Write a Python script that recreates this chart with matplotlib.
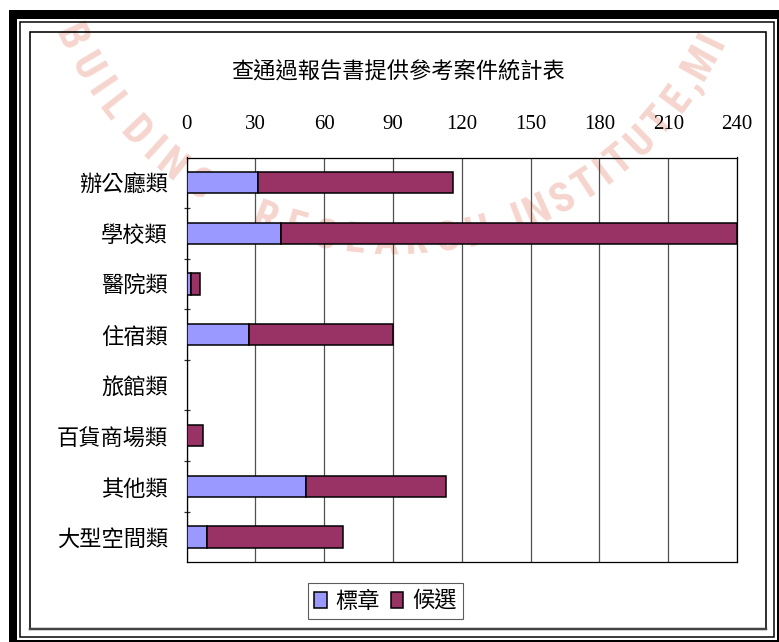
import matplotlib
matplotlib.use('Agg')
import matplotlib.pyplot as plt
from matplotlib.patches import Rectangle, Patch
from matplotlib.ticker import FixedLocator
from matplotlib import font_manager
import numpy as np

plt.rcParams['font.family'] = ['Noto Sans CJK TC', 'DejaVu Sans']

# data
title = '查通過報告書提供參考案件統計表'
categories = ['辦公廳類', '學校類', '醫院類', '住宿類', '旅館類', '百貨商場類', '其他類', '大型空間類']
badge = [31, 41, 2, 27, 0, 0, 52, 9]         # 標章
candidate = [85, 199, 4, 63, 0, 7, 61, 59]   # 候選
series_names = ['標章', '候選']
x_ticks = [0, 30, 60, 90, 120, 150, 180, 210, 240]

# seal words: (word, start angle, step in degrees)
seal_words = [('BUILDING', -65, 5.3), ('RESEARCH', -21, 5.0),
              ('INSTITUTE,', 22, 4.5), ('MINISTRY', 60, 4.7)]

W, H = 779, 642
fig = plt.figure(figsize=(W / 100, H / 100), dpi=100, facecolor='white')


def fx(x):
    return x / W


def fy(y):
    return 1 - y / H


def box(x0, y0, x1, y1, **kw):
    # rectangle given in pixel coords, origin top-left
    r = Rectangle((fx(x0), fy(y1)), fx(x1) - fx(x0), fy(y0) - fy(y1),
                  transform=fig.transFigure, **kw)
    fig.add_artist(r)
    return r


# pick a narrow face for the seal lettering if one is installed
names = {f.name for f in font_manager.fontManager.ttflist}
seal_fonts = [n for n in ['Roboto Condensed', 'DejaVu Sans Condensed',
                          'Liberation Sans Narrow', 'Open Sans Condensed'] if n in names]
seal_fonts.append('DejaVu Sans')
seal_size = 30 if seal_fonts[0] != 'DejaVu Sans' else 26

# faint seal watermark behind everything
cx, cy, rad = 392, -112, 355
narrow = {'I': 0.5, ',': 0.45, 'M': 1.2}
for word, a0, step in seal_words:
    pos = 0.0
    for ch in word:
        w = narrow.get(ch, 1.0)
        phi = a0 + (pos + w / 2 - 0.5) * step
        pos += w
        t = np.radians(phi)
        px = cx + rad * np.sin(t)
        py = cy + rad * np.cos(t)
        if py < 24 or px > 765:
            continue
        fig.text(fx(px), fy(py), ch, ha='center', va='center', rotation=phi,
                 rotation_mode='anchor', fontsize=seal_size, fontweight='bold',
                 family=seal_fonts[:1], color='#F5D5CD', zorder=-5)

# page frame: thick black band, thin line, chart border
lw_px = 0.72
box(9, 10, 17, 642, facecolor='black', edgecolor='none', zorder=1)
box(9, 10, 779, 19, facecolor='black', edgecolor='none', zorder=1)
box(777, 10, 779, 642, facecolor='black', edgecolor='none', zorder=1)
box(9, 640, 779, 642, facecolor='black', edgecolor='none', zorder=1)
box(20, 21.5, 774, 637, facecolor='none', edgecolor='black', lw=1.5 * lw_px, zorder=1)
box(30, 31.5, 766, 628.5, facecolor='none', edgecolor='black', lw=1.6 * lw_px, zorder=1)
fig.add_artist(plt.Line2D([fx(30), fx(766)], [fy(629), fy(629)], color='#444444',
                          lw=2.5 * lw_px, transform=fig.transFigure, zorder=1))

# chart
ax = fig.add_axes([fx(186.7), fy(562.3), fx(737) - fx(186.7), fy(157.5) - fy(562.3)])
ax.set_facecolor('none')

y = np.arange(len(categories))
c1, c2 = '#9999FF', '#993366'
ax.barh(y, badge, height=0.42, color=c1, edgecolor='black', linewidth=1.1, zorder=3)
ax.barh(y, candidate, left=badge, height=0.42, color=c2, edgecolor='black',
        linewidth=1.1, zorder=3)

ax.set_xlim(0, 240)
ax.set_ylim(len(categories) - 0.5, -0.5)
ax.xaxis.tick_top()
ax.set_xticks(x_ticks)
ax.set_xticklabels([str(v) for v in x_ticks], family=['Liberation Serif'], fontsize=15)
ax.tick_params(axis='x', length=0, pad=17)
ax.grid(axis='x', color='#505050', lw=0.9, zorder=1)

ax.set_yticks(y)
ax.set_yticklabels(categories, fontsize=16)
ax.yaxis.set_minor_locator(FixedLocator(y[:-1] + 0.5))
ax.tick_params(axis='y', which='major', length=0, pad=13.5)
ax.tick_params(axis='y', which='minor', direction='inout', length=5, width=0.9, color='#333333')

for s in ax.spines.values():
    s.set_color('black')
    s.set_linewidth(0.9)

fig.text(fx(398), fy(72), title, ha='center', va='center', fontsize=16)

handles = [Patch(facecolor=c1, edgecolor='black', lw=1.1),
           Patch(facecolor=c2, edgecolor='black', lw=1.1)]
leg = fig.legend(handles, series_names, loc='center', bbox_to_anchor=(fx(385.5), fy(601)),
                 ncol=2, fontsize=16, fancybox=False, edgecolor='#333333',
                 handlelength=0.55, handleheight=0.75, handletextpad=0.4,
                 columnspacing=0.5, borderpad=0.3, borderaxespad=0)
leg.get_frame().set_linewidth(0.8)

fig.savefig('out.png', dpi=100, facecolor='white')
